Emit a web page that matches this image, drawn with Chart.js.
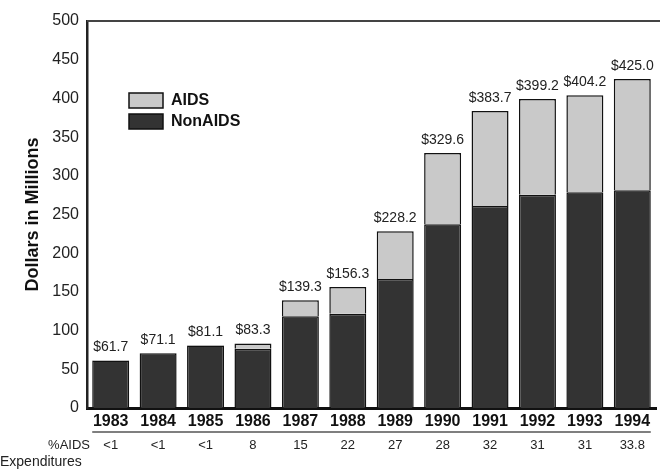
<!DOCTYPE html>
<html>
<head>
<meta charset="utf-8">
<script src="https://cdn.jsdelivr.net/npm/chart.js@4/dist/chart.umd.min.js"></script>
<style>
  html, body { margin: 0; padding: 0; background: #fff; }
  #wrap { width: 660px; height: 470px; position: relative; }
</style>
</head>
<body>
<div id="wrap"><canvas id="chart"></canvas></div>
<script>
const years = ['1983', '1984', '1985', '1986', '1987', '1988', '1989', '1990', '1991', '1992', '1993', '1994'];
const nonAids = [61.4, 70.7, 80.6, 76.6, 118.4, 121.9, 166.6, 237.3, 260.9, 275.4, 278.9, 281.3];
const aids = [0.3, 0.4, 0.5, 6.7, 20.9, 34.4, 61.6, 92.3, 122.8, 123.8, 125.3, 143.7];
const totalLabels = ['$61.7', '$71.1', '$81.1', '$83.3', '$139.3', '$156.3', '$228.2', '$329.6', '$383.7', '$399.2', '$404.2', '$425.0'];
const pctAids = ['<1', '<1', '<1', '8', '15', '22', '27', '28', '32', '31', '31', '33.8'];
const yTicks = [0, 50, 100, 150, 200, 250, 300, 350, 400, 450, 500];

const darkColor = '#333333';
const lightColor = '#c9c9c9';

const extras = {
    id: 'extras',
    afterDatasetsDraw(chart) {
        const { ctx, chartArea, scales } = chart;
        const x = scales.x;
        const y = scales.y;
        ctx.save();

        // top frame line
        ctx.strokeStyle = '#444';
        ctx.lineWidth = 2;
        ctx.beginPath();
        ctx.moveTo(chartArea.left, chartArea.top);
        ctx.lineTo(chart.width, chartArea.top);
        ctx.stroke();

        // totals above bars
        ctx.fillStyle = '#222';
        ctx.font = '14px "Liberation Sans", Arial, sans-serif';
        ctx.textAlign = 'center';
        ctx.textBaseline = 'bottom';
        years.forEach((yr, i) => {
            const top = y.getPixelForValue(nonAids[i] + aids[i]);
            ctx.fillText(totalLabels[i], x.getPixelForValue(i), top - 6);
        });

        // separator line + %AIDS row
        const first = x.getPixelForValue(0);
        const last = x.getPixelForValue(years.length - 1);
        const half = (x.getPixelForValue(1) - first) * 0.39;
        ctx.strokeStyle = '#555';
        ctx.lineWidth = 1.5;
        ctx.beginPath();
        ctx.moveTo(first - half, 432);
        ctx.lineTo(last + half, 432);
        ctx.stroke();

        ctx.fillStyle = '#222';
        ctx.font = '13px "Liberation Sans", Arial, sans-serif';
        ctx.textBaseline = 'middle';
        pctAids.forEach((p, i) => {
            ctx.fillText(p, x.getPixelForValue(i), 445);
        });
        ctx.textAlign = 'right';
        ctx.fillText('%AIDS', 90, 445);
        ctx.textAlign = 'left';
        ctx.font = '14px "Liberation Sans", Arial, sans-serif';
        ctx.fillText('Expenditures', 0, 462);

        // y axis title
        ctx.save();
        ctx.translate(33, (chartArea.top + chartArea.bottom) / 2);
        ctx.rotate(-Math.PI / 2);
        ctx.textAlign = 'center';
        ctx.font = 'bold 18px "Liberation Sans", Arial, sans-serif';
        ctx.fillStyle = '#111';
        ctx.fillText('Dollars in Millions', 0, 0);
        ctx.restore();

        // legend
        const entries = [
            { label: chart.data.datasets[1].label, color: lightColor },
            { label: chart.data.datasets[0].label, color: darkColor }
        ];
        ctx.font = 'bold 16px "Liberation Sans", Arial, sans-serif';
        ctx.textAlign = 'left';
        entries.forEach((e, i) => {
            const top = 93 + i * 21;
            ctx.fillStyle = e.color;
            ctx.fillRect(129, top, 34, 15);
            ctx.strokeStyle = '#111';
            ctx.lineWidth = 1.5;
            ctx.strokeRect(129, top, 34, 15);
            ctx.fillStyle = '#111';
            ctx.fillText(e.label, 171, top + 8);
        });

        ctx.restore();
    }
};

new Chart(document.getElementById('chart'), {
    type: 'bar',
    data: {
        labels: years,
        datasets: [
            {
                label: 'NonAIDS',
                data: nonAids,
                backgroundColor: darkColor,
                borderColor: '#111',
                borderWidth: 1.5,
                barPercentage: 0.78,
                categoryPercentage: 1
            },
            {
                label: 'AIDS',
                data: aids,
                backgroundColor: lightColor,
                borderColor: '#111',
                borderWidth: 1.5,
                barPercentage: 0.78,
                categoryPercentage: 1
            }
        ]
    },
    options: {
        responsive: true,
        maintainAspectRatio: false,
        animation: false,
        layout: { padding: { top: 21, right: 4, left: 0, bottom: 0 } },
        plugins: {
            legend: { display: false },
            tooltip: { enabled: false }
        },
        scales: {
            x: {
                stacked: true,
                grid: { display: false, drawTicks: false },
                border: { color: '#111', width: 3 },
                ticks: {
                    padding: 4,
                    color: '#111',
                    font: { family: '"Liberation Sans", Arial, sans-serif', size: 16, weight: 'bold' }
                },
                afterFit: (scale) => { scale.height = 62; }
            },
            y: {
                stacked: true,
                min: 0,
                max: 500,
                grid: { display: false, drawTicks: false },
                border: { color: '#222', width: 2.5 },
                afterBuildTicks: (scale) => { scale.ticks = yTicks.map(v => ({ value: v })); },
                ticks: {
                    padding: 8,
                    color: '#222',
                    font: { family: '"Liberation Sans", Arial, sans-serif', size: 16 }
                },
                afterFit: (scale) => { scale.width = 87; }
            }
        }
    },
    plugins: [extras]
});
</script>
</body>
</html>
